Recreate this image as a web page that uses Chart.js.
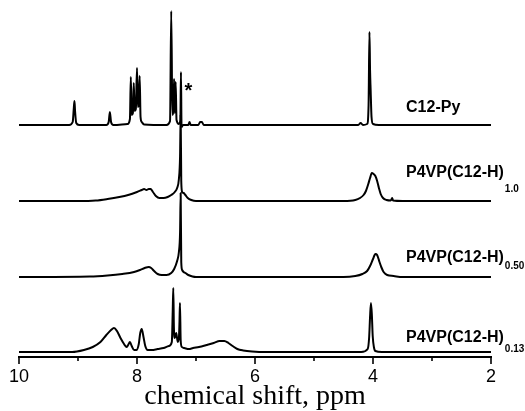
<!DOCTYPE html>
<html>
<head>
<meta charset="utf-8">
<title>1H NMR spectra</title>
<script src="https://cdn.jsdelivr.net/npm/chart.js@4.4.0/dist/chart.umd.min.js"></script>
<style>
  html, body { margin: 0; padding: 0; background: #fff; }
</style>
</head>
<body>
<canvas id="nmr" width="525" height="411"></canvas>
<script>
// chemical shift (ppm) / signal height pairs, one pair of arrays per spectrum
const pyShift = [10.0, 9.15, 9.09, 9.07, 9.06, 9.05, 9.03, 8.98, 8.52, 8.48, 8.46, 8.44, 8.40,
  8.16, 8.12, 8.105, 8.09, 8.07, 8.055, 8.04, 8.02, 8.00, 7.985, 7.97, 7.955, 7.94, 7.92, 7.88,
  7.50, 7.44, 7.42, 7.40, 7.385, 7.372, 7.36, 7.345, 7.33, 7.29, 7.265, 7.255, 7.245, 7.22,
  7.13, 7.11, 7.09, 6.96, 6.93, 6.90, 6.87, 4.25, 4.21, 4.17, 4.10, 4.075, 4.06, 4.05, 4.04,
  4.025, 4.00, 3.9, 2.0];
const pyHeight = [0, 0, 3, 18, 24, 14, 2, 0, 0, 3, 13, 3, 0,
  1, 6, 48, 10, 12, 42, 14, 16, 57, 18, 20, 49, 8, 3, 0.5,
  0, 4, 114, 10, 14, 46, 12, 43, 5, 1, 5, 53, -2, 0,
  0, 3, 0, 0, 3, 3, 0, 0, 2, 0, 1, 20, 93, 55, 35,
  8, 1, 0, 0];

const h10Shift = [10.0, 9.0, 8.7, 8.5, 8.3, 8.15, 8.0, 7.92, 7.88, 7.84, 7.80, 7.77, 7.73, 7.68,
  7.62, 7.55, 7.48, 7.42, 7.36, 7.32, 7.29, 7.27, 7.26, 7.25, 7.235, 7.21, 7.18, 7.14, 7.08, 7.0,
  4.5, 4.3, 4.22, 4.16, 4.12, 4.08, 4.05, 4.02, 3.99, 3.96, 3.93, 3.90, 3.87, 3.83, 3.77, 3.70,
  3.675, 3.66, 3.5, 2.0];
const h10Height = [0, 0, 0.5, 2, 4, 6, 9, 11, 12, 11, 12, 12, 9, 5,
  3, 3, 4, 6, 9, 13, 22, 45, 86, 20, 9, 8, 6, 3, 1, 0,
  0, 1, 3, 6, 10, 17, 23, 28, 27, 25, 20, 13, 7, 3, 1, 0.5,
  3, 0.5, 0, 0];

const h050Shift = [10.0, 8.8, 8.5, 8.25, 8.05, 7.95, 7.87, 7.80, 7.76, 7.71, 7.65, 7.58, 7.5,
  7.42, 7.37, 7.32, 7.29, 7.27, 7.26, 7.25, 7.235, 7.21, 7.18, 7.13, 7.06, 7.0,
  4.5, 4.3, 4.18, 4.10, 4.05, 4.00, 3.96, 3.93, 3.89, 3.86, 3.82, 3.76, 3.65, 3.5, 2.0];
const h050Height = [0, 0.5, 1.5, 3, 5, 7, 9, 10, 9, 6, 3, 2, 2,
  4, 8, 16, 25, 45, 84, 15, 7, 5, 4, 2, 0.5, 0,
  0, 1, 3, 6, 11, 18, 23, 22, 15, 10, 5, 2, 1, 0, 0];

const h013Shift = [10.0, 9.1, 8.9, 8.75, 8.62, 8.52, 8.44, 8.39, 8.34, 8.28, 8.22, 8.18, 8.15,
  8.12, 8.09, 8.05, 8.01, 7.97, 7.945, 7.92, 7.89, 7.86, 7.82, 7.75, 7.65, 7.55, 7.46, 7.41,
  7.395, 7.385, 7.375, 7.36, 7.335, 7.31, 7.29, 7.28, 7.272, 7.26, 7.24, 7.2, 7.12, 7.05, 6.95,
  6.82, 6.7, 6.6, 6.52, 6.45, 6.38, 6.3, 6.2, 6.05, 5.8, 4.2, 4.09, 4.065, 4.05, 4.035, 4.02,
  4.005, 3.985, 3.96, 3.85, 2.0];
const h013Height = [0, 0, 2, 5, 10, 17, 22, 24, 21, 14, 8, 5, 7,
  10, 6, 2, 2, 8, 19, 23, 15, 6, 2, 2, 3, 4, 6, 10,
  40, 64, 25, 14, 19, 10, 14, 30, 49, 12, 5, 4, 3, 4, 5,
  7, 9, 11, 11, 9, 6, 3, 1.5, 0.5, 0, 0, 3, 15, 35, 49, 38,
  16, 5, 1, 0, 0];

const sampleNames = ['C12-Py', 'P4VP(C12-H)', 'P4VP(C12-H)', 'P4VP(C12-H)'];
const sampleSubs = ['', '1.0', '0.50', '0.13'];
// vertical stacking of the spectra (y units)
const traceOffsets = [232, 156, 80, 5];

const labelShift = 3.44;          // where the sample names start, ppm
const labelLift = [13, 24, 15, 10];
const subDrop = [0, 15, 7, 10];
const starShift = 7.13;

function toPoints(shift, height, offset) {
  return shift.map((x, i) => ({ x: x, y: height[i] + offset }));
}

const spectra = [
  toPoints(pyShift, pyHeight, traceOffsets[0]),
  toPoints(h10Shift, h10Height, traceOffsets[1]),
  toPoints(h050Shift, h050Height, traceOffsets[2]),
  toPoints(h013Shift, h013Height, traceOffsets[3])
];

// major / minor tick marks under the axis line
const axisTicks = {
  id: 'axisTicks',
  afterDraw(chart) {
    const { ctx, scales: { x } } = chart;
    ctx.save();
    ctx.strokeStyle = '#000';
    ctx.lineWidth = 1.6;
    x.ticks.forEach(t => {
      const px = Math.round(x.getPixelForValue(t.value));
      const len = t.value % 2 === 0 ? 7 : 4;
      ctx.beginPath();
      ctx.moveTo(px, x.top);
      ctx.lineTo(px, x.top + len);
      ctx.stroke();
    });
    ctx.restore();
  }
};

// sample names with subscripts, and the solvent marker
const traceLabels = {
  id: 'traceLabels',
  afterDatasetsDraw(chart) {
    const { ctx, scales: { x, y } } = chart;
    ctx.save();
    ctx.fillStyle = '#000';
    ctx.textBaseline = 'alphabetic';
    ctx.textAlign = 'left';
    const left = x.getPixelForValue(labelShift);
    sampleNames.forEach((name, i) => {
      const base = y.getPixelForValue(traceOffsets[i]) - labelLift[i];
      ctx.font = 'bold 16px "Liberation Sans", Arial, sans-serif';
      ctx.fillText(name, left, base);
      if (sampleSubs[i]) {
        const w = ctx.measureText(name).width;
        ctx.font = 'bold 10px "Liberation Sans", Arial, sans-serif';
        ctx.fillText(sampleSubs[i], left + w + 1, base + subDrop[i]);
      }
    });
    ctx.font = 'bold 20px "Liberation Sans", Arial, sans-serif';
    ctx.textAlign = 'center';
    ctx.fillText('*', x.getPixelForValue(starShift), y.getPixelForValue(traceOffsets[0]) - 28);
    ctx.restore();
  }
};

new Chart(document.getElementById('nmr'), {
  type: 'line',
  data: {
    datasets: spectra.map((pts, i) => ({
      label: sampleNames[i] + sampleSubs[i],
      data: pts,
      borderColor: '#000',
      borderWidth: 2,
      pointRadius: 0,
      fill: false,
      cubicInterpolationMode: 'monotone',
      clip: false
    }))
  },
  options: {
    responsive: false,
    animation: false,
    devicePixelRatio: 1,
    layout: { padding: { left: 18, right: 34, top: 0, bottom: 0 } },
    plugins: { legend: { display: false }, tooltip: { enabled: false } },
    scales: {
      x: {
        type: 'linear',
        reverse: true,
        min: 2,
        max: 10,
        afterFit(scale) { scale.height = 54; },
        grid: { display: false, drawTicks: false },
        border: { display: true, color: '#000', width: 2 },
        ticks: {
          stepSize: 1,
          padding: 9,
          color: '#000',
          autoSkip: false,
          maxRotation: 0,
          font: { family: '"Liberation Sans", Arial, sans-serif', size: 18 },
          callback: v => (v % 2 === 0 ? v : '')
        },
        title: {
          display: true,
          text: 'chemical shift, ppm',
          color: '#000',
          padding: 0,
          font: { family: '"Liberation Serif", "Times New Roman", serif', size: 28, lineHeight: 1 }
        }
      },
      y: {
        type: 'linear',
        display: false,
        min: 0,
        max: 357
      }
    }
  },
  plugins: [axisTicks, traceLabels]
});
</script>
</body>
</html>
